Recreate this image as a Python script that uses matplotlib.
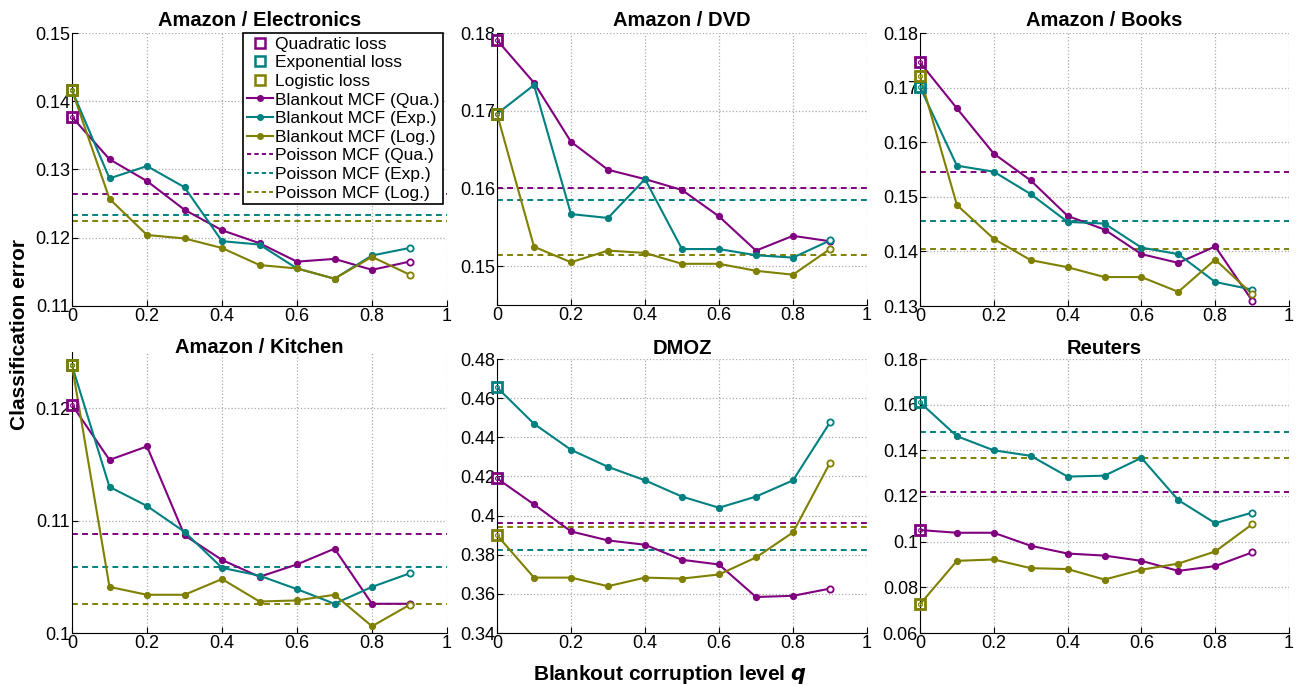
import matplotlib
matplotlib.use('Agg')
import matplotlib.pyplot as plt
from matplotlib.lines import Line2D

plt.rcParams['font.family'] = ['Liberation Sans', 'DejaVu Sans']

# blankout corruption levels (q = 0 is the plain loss without corruption)
q = [0.0, 0.1, 0.2, 0.3, 0.4, 0.5, 0.6, 0.7, 0.8, 0.9]
x_ticks = [0, 0.2, 0.4, 0.6, 0.8, 1]

titles = ['Amazon / Electronics', 'Amazon / DVD', 'Amazon / Books',
          'Amazon / Kitchen', 'DMOZ', 'Reuters']

# Amazon / Electronics
elec_qua = [0.1377, 0.1315, 0.1283, 0.1241, 0.1211, 0.1192, 0.1165, 0.1169, 0.1153, 0.1165]
elec_exp = [0.1416, 0.1287, 0.1305, 0.1274, 0.1195, 0.1190, 0.1155, 0.1140, 0.1174, 0.1185]
elec_log = [0.1416, 0.1257, 0.1204, 0.1199, 0.1185, 0.1160, 0.1155, 0.1140, 0.1172, 0.1146]
elec_poisson = [0.1264, 0.1234, 0.1225]

# Amazon / DVD
dvd_qua = [0.1791, 0.1736, 0.1660, 0.1624, 0.1612, 0.1598, 0.1564, 0.1520, 0.1539, 0.1532]
dvd_exp = [0.1696, 0.1733, 0.1567, 0.1562, 0.1612, 0.1522, 0.1522, 0.1514, 0.1511, 0.1533]
dvd_log = [0.1696, 0.1525, 0.1505, 0.1520, 0.1517, 0.1503, 0.1503, 0.1494, 0.1489, 0.1522]
dvd_poisson = [0.1601, 0.1585, 0.1514]

# Amazon / Books
books_qua = [0.1746, 0.1662, 0.1579, 0.1530, 0.1465, 0.1440, 0.1395, 0.1379, 0.1409, 0.1310]
books_exp = [0.1701, 0.1557, 0.1546, 0.1505, 0.1454, 0.1451, 0.1407, 0.1395, 0.1344, 0.1330]
books_log = [0.1721, 0.1485, 0.1423, 0.1384, 0.1371, 0.1353, 0.1353, 0.1326, 0.1385, 0.1322]
books_poisson = [0.1546, 0.1456, 0.1405]

# Amazon / Kitchen
kitchen_qua = [0.1203, 0.1154, 0.1166, 0.1087, 0.1065, 0.1050, 0.1061, 0.1075, 0.1026, 0.1026]
kitchen_exp = [0.1238, 0.1130, 0.1113, 0.1090, 0.1058, 0.1051, 0.1039, 0.1026, 0.1041, 0.1053]
kitchen_log = [0.1238, 0.1041, 0.1034, 0.1034, 0.1048, 0.1028, 0.1029, 0.1034, 0.1006, 0.1025]
kitchen_poisson = [0.1088, 0.1059, 0.1026]

# DMOZ
dmoz_qua = [0.4190, 0.4057, 0.3919, 0.3873, 0.3851, 0.3774, 0.3750, 0.3584, 0.3590, 0.3627]
dmoz_exp = [0.4655, 0.4469, 0.4336, 0.4249, 0.4180, 0.4097, 0.4040, 0.4097, 0.4180, 0.4476]
dmoz_log = [0.3900, 0.3683, 0.3683, 0.3639, 0.3683, 0.3678, 0.3699, 0.3786, 0.3914, 0.4269]
dmoz_poisson = [0.3963, 0.3823, 0.3941]

# Reuters
reuters_qua = [0.1051, 0.1039, 0.1039, 0.0982, 0.0948, 0.0939, 0.0916, 0.0872, 0.0893, 0.0953]
reuters_exp = [0.1610, 0.1462, 0.1400, 0.1376, 0.1285, 0.1289, 0.1367, 0.1182, 0.1081, 0.1127]
reuters_log = [0.0726, 0.0916, 0.0922, 0.0884, 0.0880, 0.0834, 0.0877, 0.0904, 0.0957, 0.1076]
reuters_poisson = [0.1218, 0.1481, 0.1367]

colors = ['#800080', '#008080', '#808000']

W, H = 1296, 685
fig = plt.figure(figsize=(W / 100, H / 100), dpi=100)


def px_axes(left, right, top, bottom):
    return fig.add_axes([left / W, (H - bottom) / H, (right - left) / W, (bottom - top) / H])


def draw_panel(ax, title, qua, exp, log, poisson, ylim, yticks, top, bottom, title_base):
    series = [qua, exp, log]
    for val, c in zip(poisson, colors):
        ax.axhline(val, color=c, ls=(0, (3, 2.2)), lw=1.4, zorder=2)
    for vals, c in zip(series, colors):
        ax.plot(q, vals, color=c, lw=1.5, marker='o', ms=4.2,
                markevery=list(range(1, 9)), zorder=3)
        ax.plot(q[-1], vals[-1], 'o', mfc='white', mec=c, ms=4.5, mew=1.3, zorder=4)
    for vals, c in zip(series, colors):
        ax.plot(q[0], vals[0], 's', mfc='none', mec=c, ms=7.5, mew=2, zorder=5, clip_on=False)
        ax.plot(q[0], vals[0], 'o', mfc='none', mec=c, ms=2.8, mew=0.8, zorder=5, clip_on=False)

    ax.set_xlim(0, 1)
    ax.set_ylim(*ylim)
    ax.set_xticks(x_ticks)
    ax.set_xticklabels(['%g' % t for t in x_ticks])
    ax.set_yticks(yticks)
    ax.set_yticklabels(['%g' % t for t in yticks])
    ax.tick_params(direction='in', length=4, width=0.8, pad=1.5, labelsize=13,
                   top=False, right=False)
    ax.spines['top'].set_visible(False)
    ax.spines['right'].set_visible(False)
    ax.grid(True, ls=':', color='#ababab', lw=0.9)
    ax.set_axisbelow(True)
    ax.set_title(title, fontsize=14.5, fontweight='bold', pad=0,
                 y=(bottom - title_base) / (bottom - top))


ax1 = px_axes(72, 447, 33, 306)
draw_panel(ax1, titles[0], elec_qua, elec_exp, elec_log, elec_poisson,
           (0.11, 0.15), [0.11, 0.12, 0.13, 0.14, 0.15], 33, 306, 26)

ax2 = px_axes(497, 867, 33, 305)
draw_panel(ax2, titles[1], dvd_qua, dvd_exp, dvd_log, dvd_poisson,
           (0.145, 0.18), [0.15, 0.16, 0.17, 0.18], 33, 305, 26)

ax3 = px_axes(920, 1289, 33, 306)
draw_panel(ax3, titles[2], books_qua, books_exp, books_log, books_poisson,
           (0.13, 0.18), [0.13, 0.14, 0.15, 0.16, 0.17, 0.18], 33, 306, 26)

ax4 = px_axes(72, 447, 352, 633)
draw_panel(ax4, titles[3], kitchen_qua, kitchen_exp, kitchen_log, kitchen_poisson,
           (0.1, 0.125), [0.1, 0.11, 0.12], 352, 633, 353)

ax5 = px_axes(497, 867, 359, 633)
draw_panel(ax5, titles[4], dmoz_qua, dmoz_exp, dmoz_log, dmoz_poisson,
           (0.34, 0.48), [0.34, 0.36, 0.38, 0.4, 0.42, 0.44, 0.46, 0.48], 359, 633, 354)

ax6 = px_axes(920, 1289, 359, 633)
draw_panel(ax6, titles[5], reuters_qua, reuters_exp, reuters_log, reuters_poisson,
           (0.06, 0.18), [0.06, 0.08, 0.1, 0.12, 0.14, 0.16, 0.18], 359, 633, 354)

# legend in the first panel
handles = [
    Line2D([], [], ls='none', marker='s', mfc='none', mec=colors[0], ms=7, mew=1.8),
    Line2D([], [], ls='none', marker='s', mfc='none', mec=colors[1], ms=7, mew=1.8),
    Line2D([], [], ls='none', marker='s', mfc='none', mec=colors[2], ms=7, mew=1.8),
    Line2D([], [], color=colors[0], lw=1.5, marker='o', ms=4),
    Line2D([], [], color=colors[1], lw=1.5, marker='o', ms=4),
    Line2D([], [], color=colors[2], lw=1.5, marker='o', ms=4),
    Line2D([], [], color=colors[0], lw=1.4, ls=(0, (2.2, 1.6))),
    Line2D([], [], color=colors[1], lw=1.4, ls=(0, (2.2, 1.6))),
    Line2D([], [], color=colors[2], lw=1.4, ls=(0, (2.2, 1.6))),
]
labels = ['Quadratic loss', 'Exponential loss', 'Logistic loss',
          'Blankout MCF (Qua.)', 'Blankout MCF (Exp.)', 'Blankout MCF (Log.)',
          'Poisson MCF (Qua.)', 'Poisson MCF (Exp.)', 'Poisson MCF (Log.)']
leg = ax1.legend(handles, labels, loc='upper right', bbox_to_anchor=(0.99, 1.0),
                 borderaxespad=0, fontsize=12.5, fancybox=False, framealpha=1,
                 edgecolor='black', handlelength=1.5, handletextpad=0.15,
                 labelspacing=0.2, borderpad=0.2)
leg.get_frame().set_linewidth(1.2)
leg.set_zorder(10)

fig.text(20 / W, 1 - 335 / H, 'Classification error', rotation=90, fontsize=15,
         fontweight='bold', ha='center', va='center')
fig.text(670 / W, 1 - 675 / H, 'Blankout corruption level $\\boldsymbol{q}$',
         fontsize=15, fontweight='bold', ha='center', va='center')

fig.savefig('out.png', dpi=100)
